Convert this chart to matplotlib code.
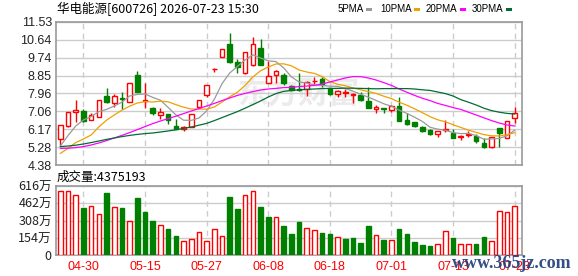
import matplotlib
matplotlib.use('Agg')
import matplotlib.pyplot as plt
from matplotlib.patches import Rectangle
import numpy as np

# ---------------- data ----------------
opens = [5.66, 6.33, 7.01, 7.10, 6.61, 6.80, 7.81, 7.46, 7.73, 7.51,
         8.88, 7.58, 7.21, 6.86, 6.91, 6.33, 6.18, 6.30, 7.30, 7.88,
         9.17, 9.80, 10.43, 9.51, 9.00, 9.38, 10.21, 8.46, 8.88, 8.88,
         8.33, 8.17, 8.18, 8.56, 8.66, 8.21, 7.93, 7.98, 7.90, 7.88,
         7.58, 7.16, 7.23, 7.13, 7.33, 6.63, 6.51, 6.30, 6.13, 5.91,
         6.13, 5.96, 5.76, 5.90, 5.83, 5.50, 5.28, 6.23, 5.75, 6.71]
highs = [6.36, 7.01, 7.63, 7.16, 7.00, 7.63, 8.23, 7.93, 8.05, 8.46,
         9.10, 8.46, 7.26, 7.21, 6.95, 6.68, 6.33, 6.91, 7.61, 8.38,
         9.21, 10.16, 11.00, 9.66, 10.05, 10.76, 10.68, 9.60, 9.13, 8.96,
         8.38, 8.96, 8.60, 8.80, 8.76, 8.25, 8.13, 8.16, 8.00, 8.05,
         8.26, 7.38, 7.25, 7.38, 7.76, 7.00, 6.55, 6.33, 6.16, 6.08,
         6.63, 6.18, 5.88, 6.08, 5.93, 5.71, 5.80, 6.23, 6.58, 7.26]
lows = [5.40, 6.30, 6.55, 6.55, 6.61, 6.76, 7.50, 7.30, 7.16, 7.51,
        8.05, 7.25, 6.88, 6.68, 6.41, 6.16, 6.08, 6.26, 7.21, 7.76,
        9.05, 9.78, 9.50, 8.96, 8.93, 9.35, 9.38, 8.46, 8.50, 8.38,
        8.08, 8.10, 7.83, 8.43, 8.30, 7.90, 7.76, 7.76, 7.46, 7.60,
        7.21, 7.00, 6.96, 7.05, 6.58, 6.38, 6.26, 6.05, 5.88, 5.80,
        6.05, 5.75, 5.63, 5.80, 5.50, 5.23, 5.25, 5.30, 5.75, 6.50]
closes = [6.36, 7.01, 7.13, 6.60, 6.90, 7.63, 7.55, 7.81, 7.70, 8.46,
          8.05, 7.62, 6.98, 7.01, 6.63, 6.20, 6.28, 6.91, 7.61, 8.38,
          9.20, 10.16, 9.55, 9.30, 10.01, 10.43, 9.38, 8.83, 9.08, 8.50,
          8.14, 8.12, 8.55, 8.60, 8.41, 7.93, 8.08, 8.01, 7.93, 7.63,
          7.21, 7.26, 7.18, 7.33, 6.60, 6.43, 6.33, 6.10, 5.91, 6.08,
          6.18, 5.75, 5.85, 5.93, 5.56, 5.28, 5.80, 6.00, 6.58, 6.96]
# volume in 万股
volumes = [568, 568, 536, 420, 437, 366, 554, 426, 420, 301,
           509, 384, 304, 265, 232, 170, 125, 140, 205, 125,
           229, 167, 518, 411, 536, 568, 429, 339, 336, 259,
           187, 295, 238, 220, 196, 187, 158, 143, 152, 107,
           259, 176, 134, 134, 232, 187, 116, 89, 80, 95,
           214, 152, 98, 98, 98, 161, 125, 393, 381, 437.5193]
ma5 = [5.33, 5.85, 6.33, 6.63, 6.80, 7.05, 7.16, 7.33, 7.52, 7.83,
       7.91, 7.93, 7.76, 7.62, 7.26, 6.89, 6.62, 6.61, 6.73, 7.08,
       7.67, 8.45, 8.98, 9.31, 9.64, 9.89, 9.73, 9.59, 9.55, 9.24,
       8.79, 8.53, 8.48, 8.38, 8.36, 8.32, 8.31, 8.21, 8.07, 7.92,
       7.77, 7.61, 7.44, 7.32, 7.12, 6.96, 6.77, 6.56, 6.27, 6.17,
       6.12, 6.00, 5.95, 5.96, 5.85, 5.67, 5.68, 5.71, 5.84, 6.12]
ma10 = [4.96, 5.21, 5.50, 5.68, 5.88, 6.28, 6.62, 6.88, 7.12, 7.32,
        7.48, 7.55, 7.53, 7.57, 7.54, 7.40, 7.27, 7.18, 7.18, 7.17,
        7.28, 7.53, 7.79, 8.02, 8.36, 8.78, 9.09, 9.28, 9.43, 9.44,
        9.34, 9.13, 9.03, 8.96, 8.80, 8.55, 8.42, 8.34, 8.23, 8.14,
        8.05, 7.96, 7.82, 7.70, 7.52, 7.37, 7.19, 7.00, 6.80, 6.64,
        6.54, 6.39, 6.26, 6.12, 6.01, 5.90, 5.84, 5.83, 5.90, 5.99]
ma20 = [5.21, 5.22, 5.25, 5.30, 5.38, 5.48, 5.60, 5.73, 5.86, 6.00,
        6.15, 6.30, 6.45, 6.58, 6.70, 6.82, 6.95, 7.08, 7.20, 7.33,
        7.46, 7.60, 7.73, 7.86, 7.96, 8.05, 8.13, 8.18, 8.21, 8.25,
        8.26, 8.30, 8.33, 8.36, 8.43, 8.53, 8.63, 8.73, 8.80, 8.80,
        8.73, 8.63, 8.50, 8.36, 8.18, 8.02, 7.86, 7.72, 7.60, 7.46,
        7.36, 7.25, 7.16, 7.02, 6.88, 6.74, 6.60, 6.48, 6.38, 6.33]
ma30 = [5.30, 5.33, 5.37, 5.43, 5.50, 5.58, 5.66, 5.73, 5.80, 5.86,
        5.91, 5.95, 5.98, 6.03, 6.08, 6.14, 6.21, 6.28, 6.37, 6.46,
        6.60, 6.75, 6.90, 7.05, 7.22, 7.40, 7.58, 7.78, 7.95, 8.06,
        8.11, 8.14, 8.16, 8.18, 8.20, 8.21, 8.21, 8.22, 8.22, 8.21,
        8.20, 8.19, 8.20, 8.20, 8.20, 8.20, 8.18, 8.14, 8.11, 8.03,
        7.95, 7.83, 7.65, 7.52, 7.38, 7.22, 7.10, 7.02, 6.96, 6.93]

date_tick_idx = [3, 11, 19, 27, 35, 43, 51, 59]
date_tick_labels = ['04-30', '05-15', '05-27', '06-08', '06-18', '07-01', '07-13', '07-23']
price_ticks = [4.38, 5.28, 6.17, 7.06, 7.96, 8.85, 9.74, 10.64, 11.53]
price_tick_labels = ['4.38', '5.28', '6.17', '7.06', '7.96', '8.85', '9.74', '10.64', '11.53']
vol_ticks = [0, 154, 308, 462, 616]
vol_tick_labels = ['0', '154万', '308万', '462万', '616万']
ma_names = ['5PMA', '10PMA', '20PMA', '30PMA']
title_text = '华电能源[600726] 2026-07-23 15:30'

# ---------------- style ----------------
RED = '#ff0000'
GREEN = '#008000'
MA_COLORS = ['#9a9a9a', '#f0a000', '#ff00ff', '#006e32']
GRID = '#cccccc'
SPINE = '#999999'
CJK = ['Noto Sans CJK SC', 'DejaVu Sans']
LAT = ['Liberation Sans', 'DejaVu Sans']

W, H = 578, 276
fig = plt.figure(figsize=(W / 100, H / 100), dpi=100)

def fx(px):
    return px / W

def fy(py):
    return 1 - py / H

ax = fig.add_axes([fx(56), fy(165), fx(522) - fx(56), fy(22) - fy(165)])
axv = fig.add_axes([fx(56), fy(255), fx(522) - fx(56), fy(186) - fy(255)])

n = len(closes)
x = np.arange(n)
xlim = (-0.56, n - 0.05)
bw = 0.6

# ---- price panel ----
o = np.array(opens); c = np.array(closes); h = np.array(highs); l = np.array(lows)
up = c >= o
ax.vlines(x[up], l[up], h[up], color=RED, lw=1.0, zorder=3)
ax.vlines(x[~up], l[~up], h[~up], color=GREEN, lw=1.0, zorder=3)
body_bottom = np.minimum(o, c)
body_h = np.maximum(np.abs(c - o), 0.015)
ax.bar(x[up], body_h[up], bw, bottom=body_bottom[up], facecolor='white',
       edgecolor=RED, linewidth=1.0, zorder=4)
ax.bar(x[~up], body_h[~up], bw, bottom=body_bottom[~up], facecolor=GREEN,
       edgecolor=GREEN, linewidth=1.0, zorder=4)

for vals, col in zip([ma5, ma10, ma20, ma30], MA_COLORS):
    ax.plot(x, vals, color=col, lw=0.9, zorder=5)

ax.set_xlim(*xlim)
ax.set_ylim(price_ticks[0], price_ticks[-1])
ax.set_yticks(price_ticks)
ax.set_yticklabels(price_tick_labels, fontsize=9, family=LAT, color='#222222')
ax.set_xticks(date_tick_idx)
ax.set_xticklabels([])
ax.tick_params(length=0, pad=3)
ax.grid(axis='y', color=GRID, lw=1.0, ls='-', zorder=0)
ax.grid(axis='x', color=GRID, lw=1.0, ls=(0, (4, 3)), zorder=0)
for s in ax.spines.values():
    s.set_color(SPINE)
    s.set_linewidth(1.2)

# watermark
ax.text(0.52, 0.50, '东方财富', transform=ax.transAxes, fontsize=22,
        family=CJK, color='#ebebeb', ha='center', va='center',
        style='italic', weight='bold', zorder=1)

# ---- volume panel ----
v = np.array(volumes)
prev = np.concatenate([[c[0] - 1], c[:-1]])
vup = c >= prev
axv.bar(x[vup], v[vup], bw, facecolor='white', edgecolor=RED, linewidth=1.0, zorder=3)
axv.bar(x[~vup], v[~vup], bw, facecolor=GREEN, edgecolor=GREEN, linewidth=1.0, zorder=3)
axv.set_xlim(*xlim)
axv.set_ylim(vol_ticks[0], vol_ticks[-1])
axv.set_yticks(vol_ticks)
axv.set_yticklabels(vol_tick_labels, fontsize=9, family=CJK, color='#222222')
axv.set_xticks(date_tick_idx)
axv.set_xticklabels(date_tick_labels, fontsize=9, family=LAT, color=RED)
axv.tick_params(length=0, pad=3)
axv.tick_params(axis='x', pad=4)
axv.grid(axis='y', color=GRID, lw=1.0, ls='-', zorder=0)
axv.grid(axis='x', color=GRID, lw=1.0, ls=(0, (4, 3)), zorder=0)
for s in axv.spines.values():
    s.set_color(SPINE)
    s.set_linewidth(1.2)

# ---- texts ----
fig.text(fx(57), fy(9), title_text, fontsize=9, family=CJK, color='black',
         ha='left', va='center')
fig.text(fx(57), fy(177), '成交量:' + str(int(round(volumes[-1] * 10000))),
         fontsize=9, family=CJK, color='black', ha='left', va='center')

# legend: text followed by a small colour swatch
leg_x = [338, 380, 426, 472]
for name, col, lx in zip(ma_names, MA_COLORS, leg_x):
    fig.text(fx(lx), fy(9), name, fontsize=7, family=LAT, color='black',
             ha='left', va='center')
    fig.add_artist(Rectangle((fx(lx + 28 + (6 if len(name) > 4 else 0)), fy(11)), fx(6), 3.5 / H,
                             transform=fig.transFigure, facecolor=col,
                             edgecolor='none'))

fig.text(fx(512), fy(264), 'www.365jz.com', fontsize=13, family=['Liberation Serif', 'DejaVu Serif'],
         color='#1f3c78', ha='center', va='center', weight='bold', alpha=0.9)

fig.savefig('out.png', dpi=100)
